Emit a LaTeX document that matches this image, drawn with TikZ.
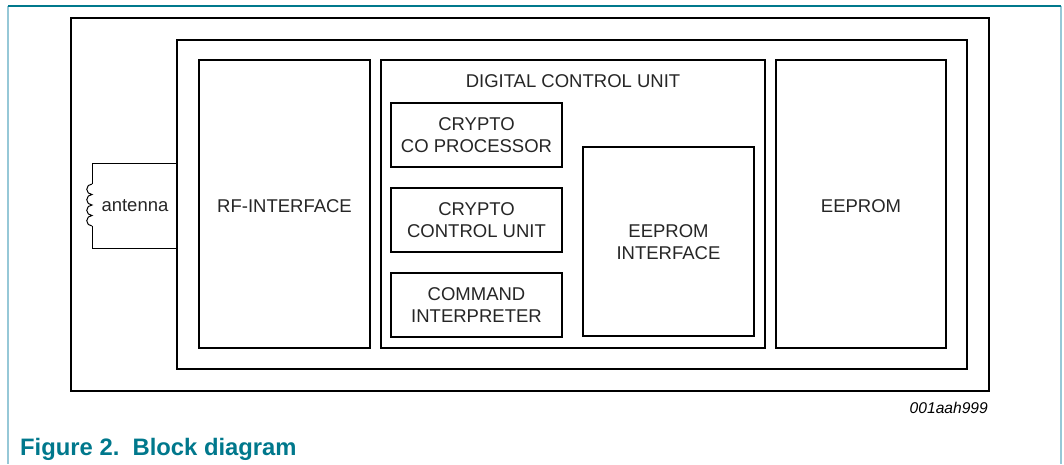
\documentclass[tikz,border=0pt]{standalone}
\usepackage{fontspec}
\setmainfont{Liberation Sans}
\usetikzlibrary{positioning}
\definecolor{nxpteal}{RGB}{0,120,140}
\definecolor{lightframe}{RGB}{150,200,215}
\tikzset{
  blk/.style={draw=black, line width=2.4pt, fill=white},
  lbl/.style={font=\fontsize{18.5}{22}\selectfont, text=black!85, align=center},
}
\begin{document}
\begin{tikzpicture}[x=1pt,y=-1pt]
\useasboundingbox (0,0) rectangle (1064,464);
% page frame
\draw[lightframe, line width=1.2pt] (8,6) -- (8,464);
\draw[lightframe, line width=1.2pt] (1061,6) -- (1061,464);
\draw[nxpteal, line width=1.4pt] (8,6) -- (1061,6);
% outer boxes
\draw[blk] (71,18) rectangle (989,391);
\draw[blk] (177,40) rectangle (967,369);
% antenna
\coordinate (at) at (177,163);
\coordinate (ab) at (177,248);
\coordinate (c1) at (92,163);
\coordinate (c2) at (92,184);
\coordinate (c3) at (92,226);
\coordinate (c4) at (92,248);
\draw[line width=1pt] (at) -- (c1) -- (c2);
\draw[line width=1pt] (c2)
  arc[start angle=270,end angle=90,radius=5.25]
  arc[start angle=270,end angle=90,radius=5.25]
  arc[start angle=270,end angle=90,radius=5.25]
  arc[start angle=270,end angle=90,radius=5.25];
\draw[line width=1pt] (c3) -- (c4) -- (ab);
\node[lbl, anchor=west] (ant) at (98,206) {antenna};
% blocks
\draw[blk] (199,60) rectangle (370,348);
\node[lbl] (rf) at (284.5,206) {RF-INTERFACE};
\draw[blk] (381,60) rectangle (765,348);
\node[lbl] (dcu) at (573,81) {DIGITAL CONTROL UNIT};
\draw[blk] (776,60) rectangle (946,348);
\node[lbl] (ee) at (861,206) {EEPROM};
\draw[blk] (391,103) rectangle (562,167);
\node[lbl] (ccp) at (476.5,135) {CRYPTO\\CO PROCESSOR};
\draw[blk] (391,188) rectangle (562,252);
\node[lbl] (ccu) at (476.5,220) {CRYPTO\\CONTROL UNIT};
\draw[blk] (391,273) rectangle (562,337);
\node[lbl] (ci) at (476.5,305) {COMMAND\\INTERPRETER};
\draw[blk] (583,147) rectangle (754,336);
\node[lbl] (eei) at (668.5,242) {EEPROM\\INTERFACE};
% ids and caption
\node[font=\itshape\fontsize{15.6}{18}\selectfont, anchor=east, inner sep=0pt] (id) at (988,408) {001aah999};
\node[font=\bfseries\fontsize{23.8}{27}\selectfont, text=nxpteal, anchor=base west, inner sep=0pt] (cap) at (20,455) {Figure 2.\ \ Block diagram};
\end{tikzpicture}
\end{document}
